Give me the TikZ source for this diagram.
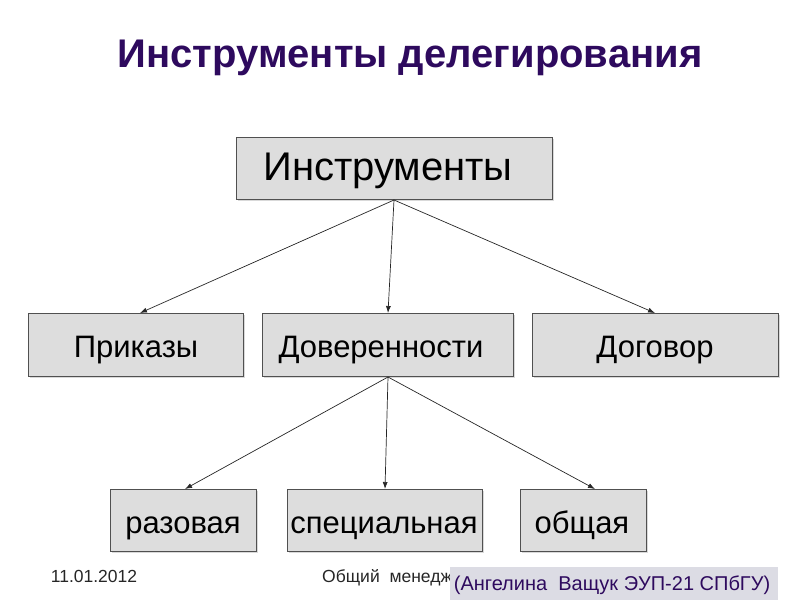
\documentclass[tikz,border=0pt]{standalone}
\usepackage{fontspec}
\setmainfont{Liberation Sans}
\usetikzlibrary{arrows.meta,shadows}
\definecolor{titlec}{HTML}{2E0A5E}
\definecolor{boxfill}{HTML}{DDDDDD}
\definecolor{boxline}{HTML}{505050}
\definecolor{authfill}{HTML}{DCDCE4}
\tikzset{
  box/.style={draw=boxline, line width=0.9pt, fill=boxfill, inner sep=0pt, anchor=north west,
     drop shadow={shadow xshift=1.5pt, shadow yshift=-1.5pt, fill=black!25, opacity=0.6}},
  conn/.style={draw=black!85, line width=0.7pt, -{Latex[length=7pt,width=5pt]}},
  lbl/.style={font=\fontsize{31}{34}\selectfont, text=black, anchor=base, inner sep=0pt},
  foot/.style={font=\fontsize{17.5}{20}\selectfont, text=black!85, anchor=base, inner sep=0pt}
}
\begin{document}
\begin{tikzpicture}[x=1pt,y=-1pt]
\useasboundingbox (0,0) rectangle (800,600);
\node[font=\bfseries\fontsize{40}{44}\selectfont, text=titlec, anchor=base, inner sep=0pt] (title) at (410,67) {Инструменты делегирования};
% boxes
\node[box, minimum width=316pt, minimum height=62pt] (instr) at (236,137) {};
\node[lbl, font=\fontsize{40}{44}\selectfont] (instrt) at (388,180) {Инструменты};
\node[box, minimum width=215pt, minimum height=63pt] (prik) at (28,313) {};
\node[lbl] (prikt) at (136,357) {Приказы};
\node[box, minimum width=251pt, minimum height=63pt] (dov) at (262,313) {};
\node[lbl] (dovt) at (381,357) {Доверенности};
\node[box, minimum width=246pt, minimum height=63pt] (dog) at (532,313) {};
\node[lbl] (dogt) at (655,357) {Договор};
\node[box, minimum width=146pt, minimum height=62pt] (raz) at (110,489) {};
\node[lbl] (razt) at (183,533) {разовая};
\node[box, minimum width=195pt, minimum height=62pt] (spec) at (287,489) {};
\node[lbl] (spect) at (384,533) {специальная};
\node[box, minimum width=126pt, minimum height=62pt] (obsh) at (520,489) {};
\node[lbl] (obsht) at (582,533) {общая};
% connectors
\coordinate (top1) at (394,200);
\coordinate (top2) at (388,377);
\draw[conn] (top1) -- (140,313);
\draw[conn] (top1) -- (388,313);
\draw[conn] (top1) -- (655,313);
\draw[conn] (top2) -- (185,489);
\draw[conn] (top2) -- (385,489);
\draw[conn] (top2) -- (595,489);
% footer
\node[foot] (date) at (94,582) {11.01.2012};
\begin{scope}
\clip (300,560) rectangle (450,600);
\node[foot, anchor=base west] (mgmt) at (322,582) {Общий\ \ менеджм};
\end{scope}
\node[fill=authfill, anchor=north west, minimum width=328pt, minimum height=33pt, inner sep=0pt] (auth) at (450,567) {};
\node[font=\fontsize{20}{22}\selectfont, text=titlec, anchor=base, inner sep=0pt] (autht) at (612,590) {(Ангелина\ \ Ващук ЭУП-21 СПбГУ)};
\end{tikzpicture}
\end{document}
